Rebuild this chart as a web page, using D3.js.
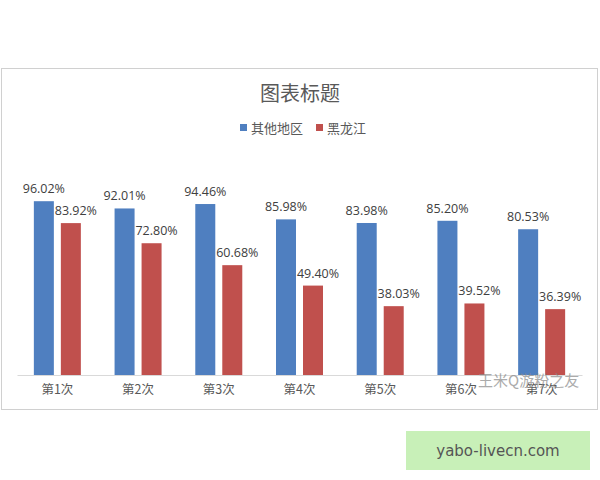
<!DOCTYPE html><html><head><meta charset="utf-8"><script src="https://cdn.jsdelivr.net/npm/d3@7"></script>
<style>body{margin:0;background:#fff}</style></head><body><svg id="c" width="600" height="480"></svg>
<script>
const categories=["第1次","第2次","第3次","第4次","第5次","第6次","第7次"];
const seriesNames=["其他地区","黑龙江"];
const other=[96.02,92.01,94.46,85.98,83.98,85.20,80.53];
const hlj=[83.92,72.80,60.68,49.40,38.03,39.52,36.39];
const colors=["#4f7fc0","#c0504d"];
const svg=d3.select("#c");
const font="'Noto Sans CJK SC',sans-serif";
svg.append("rect").attr("x",1.5).attr("y",68.5).attr("width",596).attr("height",341).attr("fill","#fff").attr("stroke","#d0d0d0");
svg.append("text").attr("x",300).attr("y",101).attr("text-anchor","middle").attr("font-family",font).attr("font-size",20).attr("fill","#595959").text("图表标题");
const lg=svg.append("g").attr("font-family",font).attr("font-size",13).attr("fill","#595959");
[[240,seriesNames[0]],[316,seriesNames[1]]].forEach(([x,t],i)=>{lg.append("rect").attr("x",x).attr("y",124).attr("width",7).attr("height",7).attr("fill",colors[i]);lg.append("text").attr("x",x+11).attr("y",133).text(t);});
const x=d3.scaleBand().domain(categories).range([17,582]).paddingInner(0).paddingOuter(0);
const y=d3.scaleLinear().domain([0,100]).range([375,194]);
const bw=20;
const g=svg.append("g");
categories.forEach((c,i)=>{
 const cx=x(c)+x.bandwidth()/2;
 [other[i],hlj[i]].forEach((v,j)=>{
  const bx=cx-bw-3.5+j*(bw+7);
  g.append("rect").attr("x",bx).attr("y",y(v)).attr("width",bw).attr("height",375-y(v)).attr("fill",colors[j]);
  g.append("text").attr("x",bx+bw/2+(j?5:0)).attr("y",y(v)-8).attr("text-anchor","middle").attr("font-family","'Open Sans',sans-serif").attr("font-size",12.5).attr("fill","#404040").text(v.toFixed(2)+"%");
 });
});
const ax=svg.append("g").attr("transform","translate(0,375)").call(d3.axisBottom(x).tickSize(0).tickPadding(10));
ax.select(".domain").attr("stroke","#d9d9d9");
ax.selectAll("text").attr("font-family",font).attr("font-size",12.5).attr("fill","#595959");
svg.append("text").attr("x",478).attr("y",386).attr("font-family",font).attr("font-size",15).attr("fill","#888").attr("opacity",0.7).text("王米Q游粉之友");
svg.append("rect").attr("x",406).attr("y",431).attr("width",184).attr("height",39).attr("fill","#c8f0b8");
svg.append("text").attr("x",498).attr("y",456).attr("text-anchor","middle").attr("font-family","'DejaVu Sans',sans-serif").attr("font-size",15).attr("fill","#555").text("yabo-livecn.com");
</script></body></html>
